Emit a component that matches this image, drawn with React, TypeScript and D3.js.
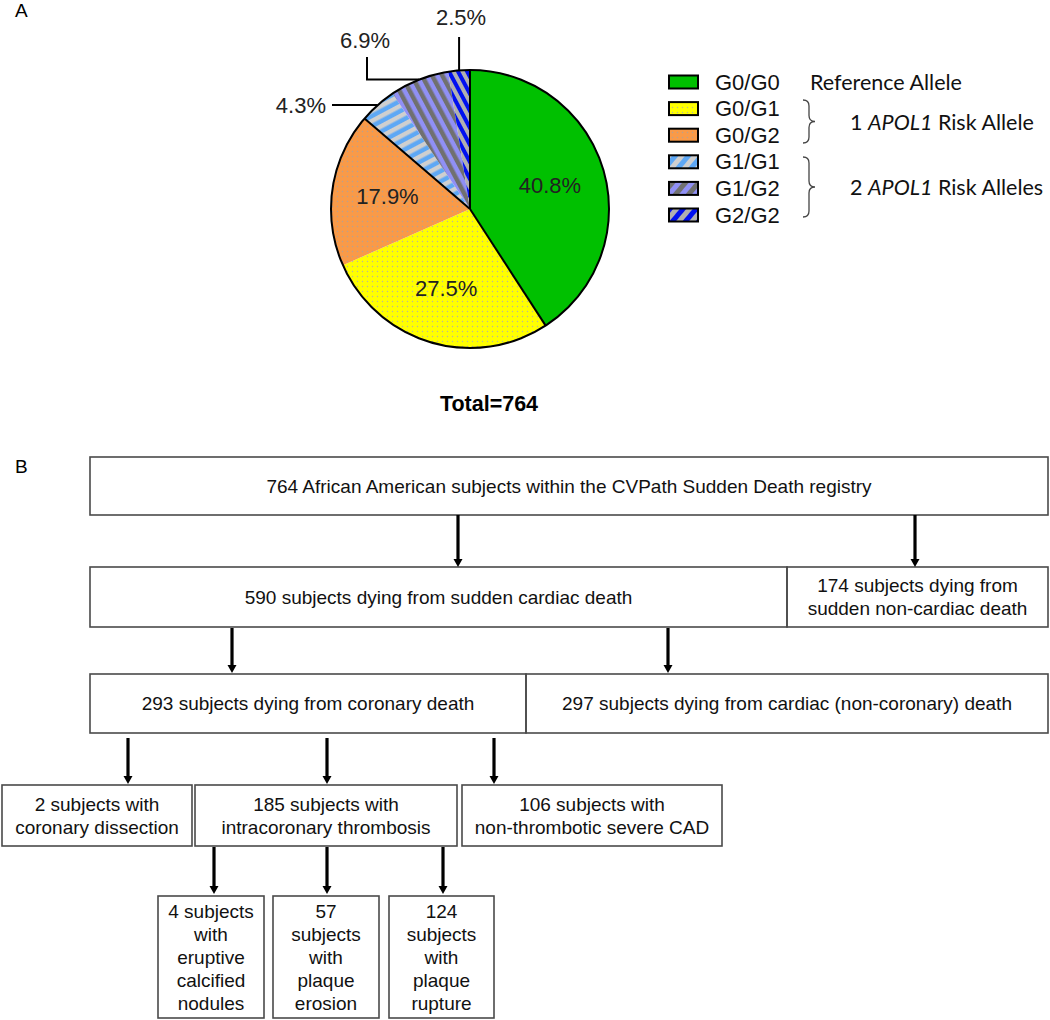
import React from "react";
import * as d3 from "d3";

// ---------- DATA ----------
const genotypes = ["G0/G0", "G0/G1", "G0/G2", "G1/G1", "G1/G2", "G2/G2"];
const shares = [40.8, 27.5, 17.9, 4.3, 6.9, 2.5];
const shareLabels = ["40.8%", "27.5%", "17.9%", "4.3%", "6.9%", "2.5%"];
const totalLabel = "Total=764";

const groupLabels = ["Reference Allele", "1 APOL1 Risk Allele", "2 APOL1 Risk Alleles"];

const row1Texts = [["764 African American subjects within the CVPath Sudden Death registry"]];
const row2Texts = [
  ["590 subjects dying from sudden cardiac death"],
  ["174 subjects dying from", "sudden non-cardiac death"],
];
const row3Texts = [
  ["293 subjects dying from coronary death"],
  ["297 subjects dying from cardiac (non-coronary) death"],
];
const row4Texts = [
  ["2 subjects with", "coronary dissection"],
  ["185 subjects with", "intracoronary thrombosis"],
  ["106 subjects with", "non-thrombotic severe CAD"],
];
const row5Texts = [
  ["4 subjects", "with", "eruptive", "calcified", "nodules"],
  ["57", "subjects", "with", "plaque", "erosion"],
  ["124", "subjects", "with", "plaque", "rupture"],
];

// ---------- STYLE / LAYOUT ----------
const W = 1050;
const H = 1020;
const ARIAL = "'Liberation Sans', Arial, sans-serif";
const CALIBRI = "Lato, 'Open Sans', sans-serif";

const fills = ["#00c000", "url(#pYellow)", "url(#pOrange)", "url(#pG11)", "url(#pG12)", "url(#pG22)"];
const legendFills = ["#00c000", "url(#pYellow)", "url(#pOrange)", "url(#lG11)", "url(#lG12)", "url(#lG22)"];

const cx = 470, cy = 209, R = 139;

type Row = { y0: number; y1: number; xs: [number, number][]; texts: string[][] };
const rows: Row[] = [
  { y0: 457, y1: 515, xs: [[90, 1048]], texts: row1Texts },
  { y0: 567, y1: 627, xs: [[90, 787], [787, 1048]], texts: row2Texts },
  { y0: 674, y1: 733, xs: [[90, 526], [526, 1048]], texts: row3Texts },
  { y0: 785, y1: 846, xs: [[2, 192], [195, 457], [462, 722]], texts: row4Texts },
  { y0: 896, y1: 1018, xs: [[158, 264], [273, 379], [389, 494]], texts: row5Texts },
];
const arrows = [
  { x: 458, y0: 515, y1: 567 },
  { x: 915, y0: 515, y1: 567 },
  { x: 232, y0: 628, y1: 673 },
  { x: 668, y0: 628, y1: 673 },
  { x: 128, y0: 738, y1: 784 },
  { x: 327, y0: 738, y1: 784 },
  { x: 494, y0: 738, y1: 784 },
  { x: 214, y0: 847, y1: 894 },
  { x: 327, y0: 847, y1: 894 },
  { x: 443, y0: 847, y1: 894 },
];

function Brace({ x, y0, y1, w }: { x: number; y0: number; y1: number; w: number }) {
  const ym = (y0 + y1) / 2;
  const xm = x + w / 2;
  const r = 6;
  const d = `M${x},${y0} Q${xm},${y0} ${xm},${y0 + r} L${xm},${ym - r} Q${xm},${ym} ${x + w},${ym} Q${xm},${ym} ${xm},${ym + r} L${xm},${y1 - r} Q${xm},${y1} ${x},${y1}`;
  return <path d={d} fill="none" stroke="#444" strokeWidth={1.3} />;
}

function Stripe({ id, base, stripe, angle, size }: { id: string; base: string; stripe: string; angle: number; size: number }) {
  return (
    <pattern id={id} patternUnits="userSpaceOnUse" width={size} height={size} patternTransform={`rotate(${angle})`}>
      <rect width={size} height={size} fill={base} />
      <rect width={size / 2} height={size} fill={stripe} />
    </pattern>
  );
}

export default function App() {
  const pie = d3.pie<number>().sort(null).startAngle(0).endAngle(2 * Math.PI);
  const arcs = pie(shares);
  const arc = d3.arc<d3.PieArcDatum<number>>().innerRadius(0).outerRadius(R);
  const labelArc = d3.arc<d3.PieArcDatum<number>>().innerRadius(R * 0.6).outerRadius(R * 0.6);
  const edgeIdx = [0, 1, 3];
  const mid = (a: d3.PieArcDatum<number>) => (a.startAngle + a.endAngle) / 2;
  const onRim = (ang: number, rr: number) => [cx + rr * Math.sin(ang), cy - rr * Math.cos(ang)];

  const legendY = d3.range(genotypes.length).map((i) => 82 + i * 26.6);

  // outside labels for small slices
  const p3 = onRim(mid(arcs[3]), R);
  const p4 = onRim(mid(arcs[4]), R);
  const p5 = onRim(mid(arcs[5]), R);

  return (
    <svg width={W} height={H} style={{ position: "absolute", left: 0, top: 0, background: "#fff" }}>
      <defs>
        <pattern id="pYellow" patternUnits="userSpaceOnUse" width={5} height={5}>
          <rect width={5} height={5} fill="#ffff00" />
          <circle cx={2.5} cy={2.5} r={0.7} fill="#b5b5a0" />
        </pattern>
        <pattern id="pOrange" patternUnits="userSpaceOnUse" width={5} height={5}>
          <rect width={5} height={5} fill="#f99a48" />
          <circle cx={2.5} cy={2.5} r={0.7} fill="#b8a090" />
        </pattern>
        <Stripe id="pG11" base="#5ea8f5" stripe="#cfcfcf" angle={62} size={9} />
        <Stripe id="pG12" base="#9090f5" stripe="#707070" angle={-28} size={9} />
        <Stripe id="pG22" base="#0010f0" stripe="#b0b0b0" angle={-28} size={8} />
        <Stripe id="lG11" base="#5ea8f5" stripe="#cfcfcf" angle={40} size={10} />
        <Stripe id="lG12" base="#9090f5" stripe="#707070" angle={40} size={10} />
        <Stripe id="lG22" base="#0010f0" stripe="#b0b0b0" angle={40} size={10} />
      </defs>

      {/* Panel labels */}
      <text x={15} y={10} fontFamily={ARIAL} fontSize={19} dominantBaseline="central">A</text>
      <text x={15} y={466} fontFamily={ARIAL} fontSize={19} dominantBaseline="central">B</text>

      {/* Pie */}
      <g transform={`translate(${cx},${cy})`}>
        {arcs.map((a, i) => (
          <path key={i} d={arc(a) || ""} fill={fills[i]} stroke="none" />
        ))}
        {edgeIdx.map((i) => {
          const ang = arcs[i].startAngle;
          return (
            <line key={i} x1={0} y1={0} x2={R * Math.sin(ang)} y2={-R * Math.cos(ang)} stroke="#000" strokeWidth={2} />
          );
        })}
        <circle r={R} fill="none" stroke="#000" strokeWidth={2} />
        {[0, 1, 2].map((i) => {
          const [x, y] = labelArc.centroid(arcs[i]);
          return (
            <text key={i} x={x} y={y} textAnchor="middle" dominantBaseline="central" fontFamily={ARIAL} fontSize={22} fill="#222">
              {shareLabels[i]}
            </text>
          );
        })}
      </g>

      {/* leader lines */}
      <path d={`M${p5[0]},${p5[1]} L${p5[0]},37`} fill="none" stroke="#000" strokeWidth={2} />
      <text x={p5[0] + 2} y={17} textAnchor="middle" dominantBaseline="central" fontFamily={ARIAL} fontSize={22} fill="#222">{shareLabels[5]}</text>
      <path d={`M${p4[0]},${p4[1]} L367,${p4[1]} L367,57`} fill="none" stroke="#000" strokeWidth={2} />
      <text x={365} y={40} textAnchor="middle" dominantBaseline="central" fontFamily={ARIAL} fontSize={22} fill="#222">{shareLabels[4]}</text>
      <path d={`M${p3[0]},${p3[1]} L332,${p3[1]}`} fill="none" stroke="#000" strokeWidth={2} />
      <text x={326} y={p3[1]} textAnchor="end" dominantBaseline="central" fontFamily={ARIAL} fontSize={22} fill="#222">{shareLabels[3]}</text>

      <text x={489} y={404} textAnchor="middle" dominantBaseline="central" fontFamily={ARIAL} fontSize={21.5} fontWeight="bold">{totalLabel}</text>

      {/* Legend */}
      {genotypes.map((g, i) => (
        <g key={g}>
          <rect x={669} y={legendY[i] - 6.5} width={29} height={13} fill={legendFills[i]} stroke="#000" strokeWidth={2} />
          <text x={715} y={legendY[i]} dominantBaseline="central" fontFamily={ARIAL} fontSize={22} fill="#111">{g}</text>
        </g>
      ))}
      <text x={810} y={legendY[0]} dominantBaseline="central" fontFamily={CALIBRI} fontSize={21.5} fill="#111">{groupLabels[0]}</text>
      <Brace x={803} y0={100} y1={143} w={12} />
      <Brace x={803} y0={157} y1={217} w={12} />
      {[1, 2].map((k) => {
        const parts = groupLabels[k].split(" ");
        return (
          <text key={k} x={850} y={k === 1 ? 122 : 187} dominantBaseline="central" fontFamily={CALIBRI} fontSize={21.5} fill="#111">
            <tspan>{parts[0]} </tspan>
            <tspan fontStyle="italic">{parts[1]}</tspan>
            <tspan> {parts.slice(2).join(" ")}</tspan>
          </text>
        );
      })}

      {/* Flowchart */}
      {rows.map((row, ri) =>
        row.xs.map(([x0, x1], bi) => {
          const lines = row.texts[bi];
          const lh = 23;
          const ym = (row.y0 + row.y1) / 2;
          return (
            <g key={`${ri}-${bi}`}>
              <rect x={x0} y={row.y0} width={x1 - x0} height={row.y1 - row.y0} fill="none" stroke="#4a4a4a" strokeWidth={1.6} />
              {lines.map((t, li) => (
                <text
                  key={li}
                  x={(x0 + x1) / 2}
                  y={ym + (li - (lines.length - 1) / 2) * lh}
                  textAnchor="middle"
                  dominantBaseline="central"
                  fontFamily={ARIAL}
                  fontSize={19}
                  fill="#111"
                >
                  {t}
                </text>
              ))}
            </g>
          );
        })
      )}
      {arrows.map((a, i) => (
        <g key={i}>
          <line x1={a.x} y1={a.y0} x2={a.x} y2={a.y1 - 6} stroke="#000" strokeWidth={3.2} />
          <path d={`M${a.x - 4.5},${a.y1 - 8} L${a.x + 4.5},${a.y1 - 8} L${a.x},${a.y1} Z`} fill="#000" />
        </g>
      ))}
    </svg>
  );
}
